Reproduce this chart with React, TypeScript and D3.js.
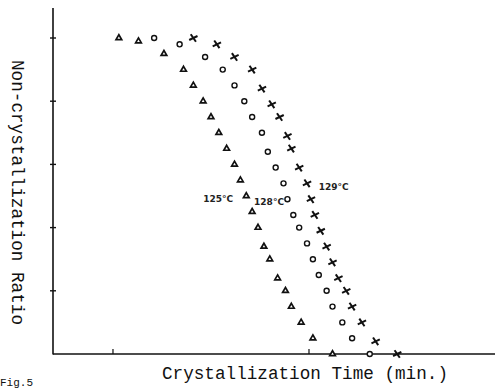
import React from "react";
import * as d3 from "d3";

// x values: log10 of crystallization time (tick marks at 1 and 10 min)
// y values: non-crystallization ratio
const series125X = [0.03, 0.13, 0.26, 0.36, 0.41, 0.46, 0.5, 0.54, 0.58, 0.62, 0.65, 0.68, 0.71, 0.74, 0.77, 0.8, 0.84, 0.88, 0.91, 0.96, 1.02, 1.12];
const series125Y = [1.0, 0.99, 0.95, 0.9, 0.85, 0.8, 0.75, 0.7, 0.65, 0.6, 0.55, 0.5, 0.45, 0.4, 0.34, 0.3, 0.24, 0.2, 0.15, 0.1, 0.05, 0.0];
const series128X = [0.21, 0.34, 0.47, 0.56, 0.62, 0.67, 0.71, 0.76, 0.79, 0.83, 0.87, 0.89, 0.92, 0.95, 0.99, 1.02, 1.05, 1.09, 1.12, 1.17, 1.22, 1.31];
const series128Y = [1.0, 0.98, 0.94, 0.9, 0.85, 0.8, 0.75, 0.7, 0.64, 0.59, 0.54, 0.49, 0.44, 0.4, 0.35, 0.3, 0.25, 0.2, 0.15, 0.1, 0.05, 0.0];
const series129X = [0.41, 0.53, 0.62, 0.71, 0.76, 0.81, 0.85, 0.89, 0.91, 0.95, 0.99, 1.01, 1.03, 1.06, 1.09, 1.12, 1.15, 1.19, 1.22, 1.27, 1.34, 1.45];
const series129Y = [1.0, 0.98, 0.94, 0.9, 0.84, 0.79, 0.75, 0.69, 0.65, 0.59, 0.54, 0.49, 0.44, 0.39, 0.34, 0.29, 0.24, 0.2, 0.15, 0.1, 0.04, 0.0];

const yTicks = [0.2, 0.4, 0.6, 0.8, 1.0];
const xTicks = [0, 1];
const labels = [
  { text: "125°C", x: 0.46, y: 0.49 },
  { text: "128°C", x: 0.72, y: 0.48 },
  { text: "129°C", x: 1.05, y: 0.53 },
];

const W = 495;
const H = 388;
const X0 = 53;
const Y0 = 354;

export default function App() {
  const x = d3.scaleLinear().domain([-0.306, 1.949]).range([X0, W]);
  const y = d3.scaleLinear().domain([0, 1]).range([Y0, 38]);
  const tri = d3.symbol().type(d3.symbolTriangle).size(14)()!;
  const circ = d3.symbol().type(d3.symbolCircle).size(20)()!;

  const pts = (xs: number[], ys: number[]) => xs.map((v, i) => [x(v), y(ys[i])]);

  const mono = "'Liberation Mono', 'DejaVu Sans Mono', monospace";

  return (
    <svg
      width={W}
      height={H}
      style={{ position: "absolute", left: 0, top: 0, background: "#fff" }}
    >
      <rect width={W} height={H} fill="#fff" />
      {/* axes */}
      <line x1={X0} y1={8} x2={X0} y2={Y0 + 0.5} stroke="#111" strokeWidth={1.6} />
      <line x1={X0} y1={Y0} x2={W} y2={Y0} stroke="#111" strokeWidth={1.6} />
      {yTicks.map((t) => (
        <line key={t} x1={X0 - 3} x2={X0 + 3} y1={y(t)} y2={y(t)} stroke="#111" strokeWidth={1.4} />
      ))}
      {xTicks.map((t) => (
        <line key={t} x1={x(t)} x2={x(t)} y1={Y0} y2={Y0 - 5} stroke="#111" strokeWidth={1.2} />
      ))}

      {/* 125°C triangles */}
      {pts(series125X, series125Y).map(([px, py], i) => (
        <path key={"t" + i} d={tri} transform={`translate(${px},${py})`} fill="#fff" stroke="#111" strokeWidth={1.7} />
      ))}
      {/* 128°C circles */}
      {pts(series128X, series128Y).map(([px, py], i) => (
        <path key={"c" + i} d={circ} transform={`translate(${px},${py})`} fill="#fff" stroke="#111" strokeWidth={1.4} />
      ))}
      {/* 129°C crosses */}
      {pts(series129X, series129Y).map(([px, py], i) => (
        <g key={"x" + i} transform={`translate(${px},${py}) rotate(15)`} stroke="#111" strokeWidth={2}>
          <line x1={-3.5} y1={-3} x2={3.5} y2={3} />
          <line x1={-3.5} y1={3} x2={3.5} y2={-3} />
        </g>
      ))}

      {labels.map((l) => (
        <text
          key={l.text}
          x={x(l.x)}
          y={y(l.y) + 3}
          fontFamily="'DejaVu Sans', sans-serif"
          fontSize={9}
          fontWeight="bold"
          fill="#222"
        >
          {l.text}
        </text>
      ))}

      <text
        x={162}
        y={379}
        fontFamily={mono}
        fontSize={19}
        textLength={286}
        lengthAdjust="spacingAndGlyphs"
        fill="#111"
      >
        Crystallization Time (min.)
      </text>
      <text
        transform="translate(12,60) rotate(90)"
        fontFamily={mono}
        fontSize={19}
        textLength={265}
        lengthAdjust="spacingAndGlyphs"
        fill="#111"
      >
        Non-crystallization Ratio
      </text>
      <text x={0} y={386} fontFamily={mono} fontSize={11} fill="#111">
        Fig.5
      </text>
    </svg>
  );
}
